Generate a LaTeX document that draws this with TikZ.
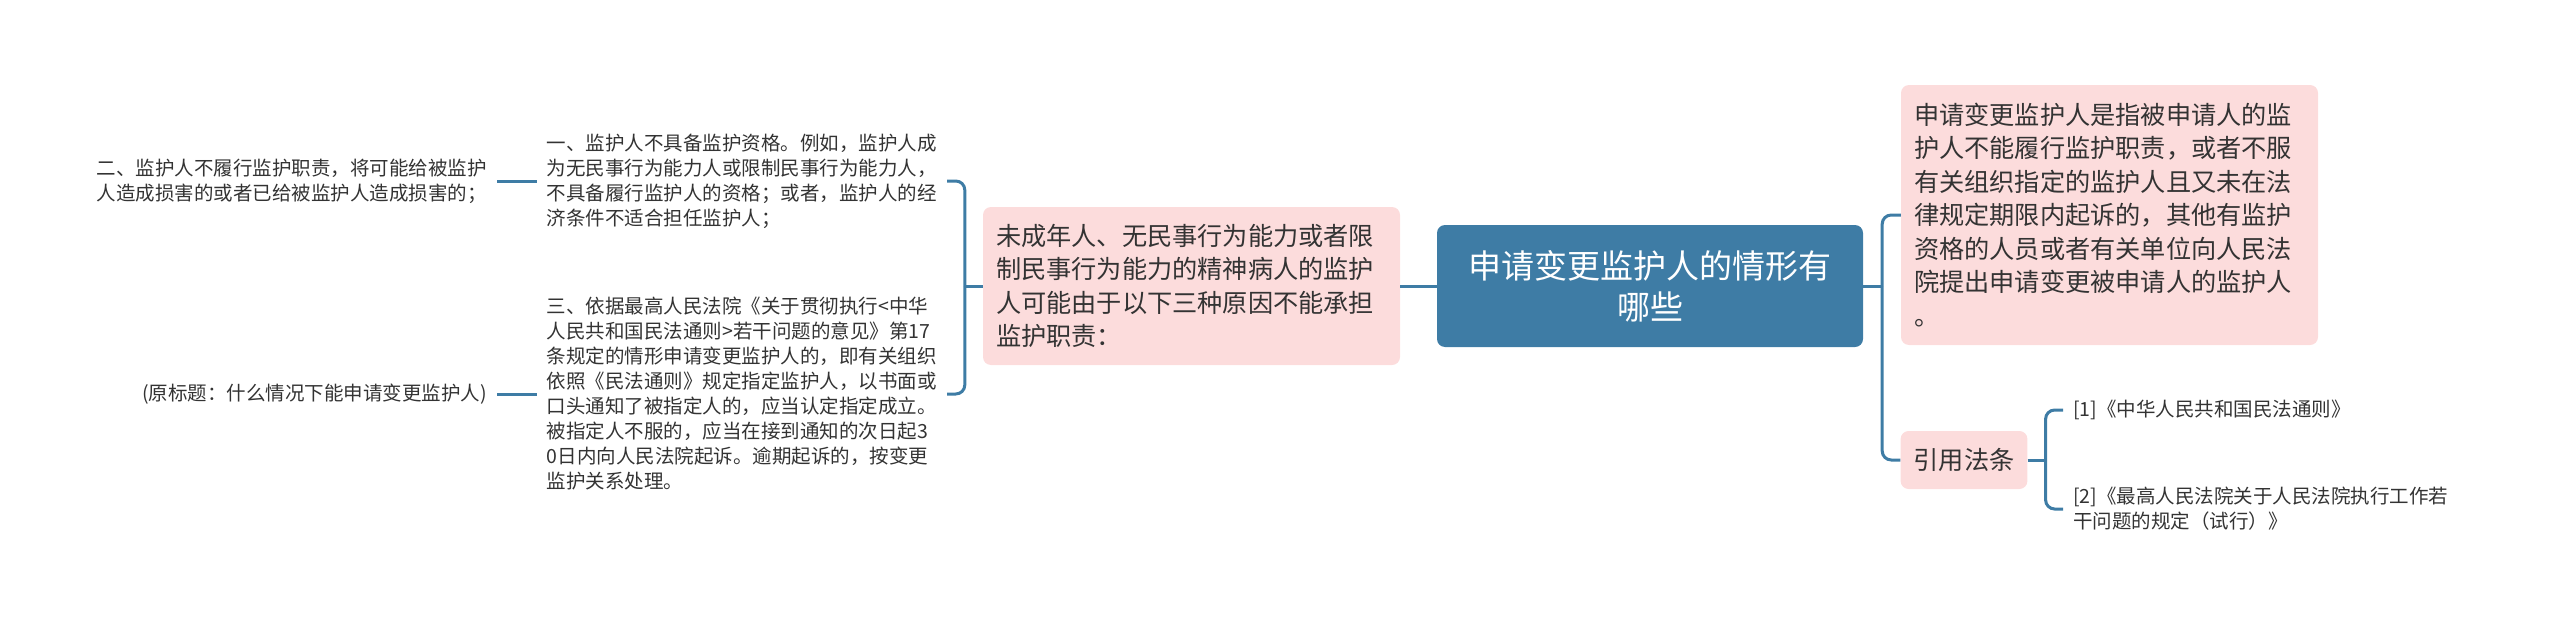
\documentclass[tikz,border=0pt]{standalone}
\usepackage{fontspec}
\setmainfont{Noto Sans CJK SC}
\definecolor{mapblue}{HTML}{3E7CA5}
\definecolor{mappink}{HTML}{FCDCDC}
\definecolor{maptext}{HTML}{333333}
\begin{document}
\begin{tikzpicture}[x=1pt,y=-1pt,
  root/.style={fill=mapblue, rounded corners=8pt, text=white, align=center, minimum width=426pt, minimum height=122pt, inner sep=0pt, font=\fontsize{33}{41}\selectfont},
  topic/.style={fill=mappink, rounded corners=8pt, text=maptext, inner xsep=13pt, inner ysep=0pt, font=\fontsize{25.2}{33.5}\selectfont},
  leaf/.style={text=maptext, align=left, inner xsep=10pt, inner ysep=0pt, font=\fontsize{19.5}{25}\selectfont},
  link/.style={draw=mapblue, line width=3pt}]
\useasboundingbox (0,0) rectangle (2560,629);
\node[root] (mid0) at (1650,286){申请变更监护人的情形有\\哪些};
\node[topic, text width=391pt, align=left, minimum height=158pt] (mid1) at (1191.5,286){未成年人、无民事行为能力或者限\\制民事行为能力的精神病人的监护\\人可能由于以下三种原因不能承担\\监护职责：};
\draw[link](mid0) -- (mid1);
\node[leaf, anchor=east] (mid2) at (947,181){一、监护人不具备监护资格。例如，监护人成\\为无民事行为能力人或限制民事行为能力人，\\不具备履行监护人的资格；或者，监护人的经\\济条件不适合担任监护人；};
\node[leaf, anchor=east] (mid3) at (497,181){二、监护人不履行监护职责，将可能给被监护\\人造成损害的或者已给被监护人造成损害的；};
\draw[link](mid2) -- (mid3);
\node[leaf, anchor=east] (mid4) at (947,394){三、依据最高人民法院《关于贯彻执行<中华\\人民共和国民法通则>若干问题的意见》第17\\条规定的情形申请变更监护人的，即有关组织\\依照《民法通则》规定指定监护人，以书面或\\口头通知了被指定人的，应当认定指定成立。\\被指定人不服的，应当在接到通知的次日起3\\0日内向人民法院起诉。逾期起诉的，按变更\\监护关系处理。};
\node[leaf, anchor=east] (mid5) at (497,394){(原标题：什么情况下能申请变更监护人)};
\draw[link](mid4) -- (mid5);
\draw[link](mid1.west) -- ++(-18,0) coordinate (j1);
\draw[link, rounded corners=9pt](j1) |- (mid2);
\draw[link, rounded corners=9pt](j1) |- (mid4);
\node[topic, text width=391pt, align=left, minimum height=260pt] (mid6) at (2109.5,215){申请变更监护人是指被申请人的监\\护人不能履行监护职责，或者不服\\有关组织指定的监护人且又未在法\\律规定期限内起诉的，其他有监护\\资格的人员或者有关单位向人民法\\院提出申请变更被申请人的监护人\\。};
\node[topic, minimum height=58pt] (mid7) at (1964,460){引用法条};
\draw[link](mid0.east) -- ++(19,0) coordinate (j2);
\draw[link, rounded corners=9pt](j2) |- (mid6);
\draw[link, rounded corners=9pt](j2) |- (mid7);
\node[leaf, anchor=west] (mid8) at (2063,410){[1]《中华人民共和国民法通则》};
\node[leaf, anchor=west] (mid9) at (2063,509){[2]《最高人民法院关于人民法院执行工作若\\干问题的规定（试行）》};
\draw[link](mid7.east) -- ++(18,0) coordinate (j3);
\draw[link, rounded corners=9pt](j3) |- (mid8);
\draw[link, rounded corners=9pt](j3) |- (mid9);
\end{tikzpicture}
\end{document}
